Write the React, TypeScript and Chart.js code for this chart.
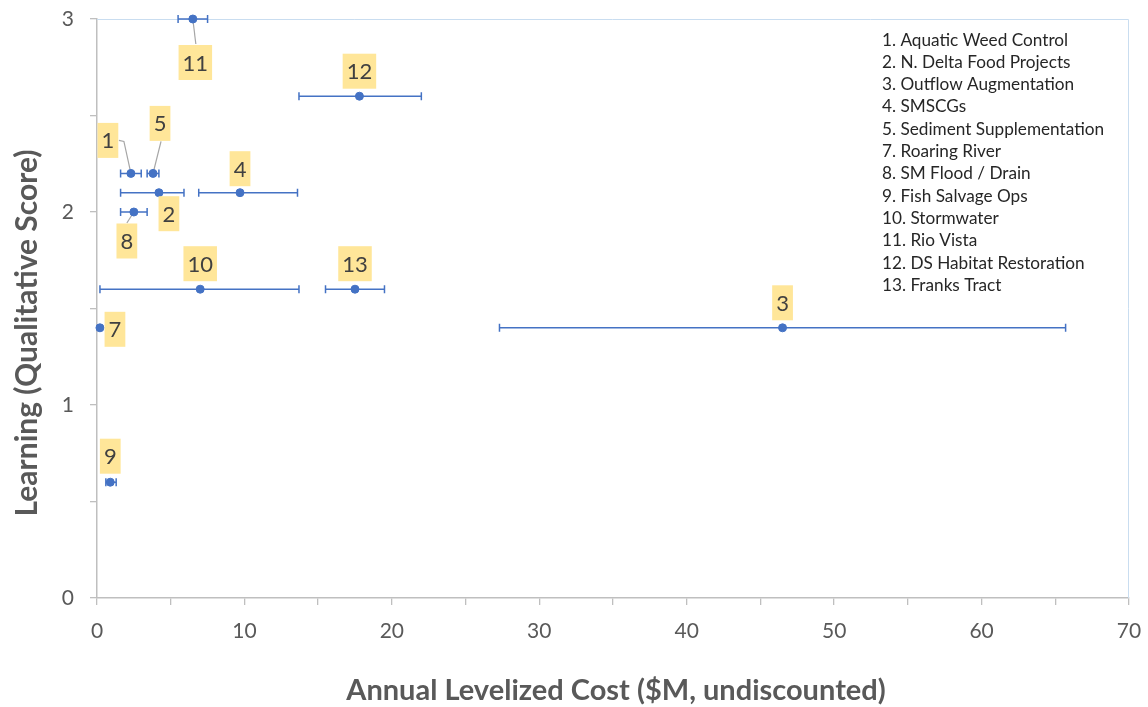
import React, { useEffect, useRef } from "react";
import { Chart, registerables } from "chart.js";

Chart.register(...registerables);

// ---- Data ----
const pointLabels = ["1", "2", "3", "4", "5", "7", "8", "9", "10", "11", "12", "13"];
const annualCost = [2.3, 4.2, 46.5, 9.7, 3.8, 0.2, 2.5, 0.9, 7.0, 6.5, 17.8, 17.5];
const learningScore = [2.2, 2.1, 1.4, 2.1, 2.2, 1.4, 2.0, 0.6, 1.6, 3.0, 2.6, 1.6];
const costLow = [1.6, 1.6, 27.3, 6.9, 3.4, null, 1.6, 0.6, 0.2, 5.5, 13.7, 15.5];
const costHigh = [3.0, 5.9, 65.7, 13.6, 4.2, null, 3.4, 1.3, 13.7, 7.5, 22.0, 19.5];
const legendEntries = [
  "1. Aquatic Weed Control",
  "2. N. Delta Food Projects",
  "3. Outflow Augmentation",
  "4. SMSCGs",
  "5. Sediment Supplementation",
  "7. Roaring River",
  "8. SM Flood / Drain",
  "9. Fish Salvage Ops",
  "10. Stormwater",
  "11. Rio Vista",
  "12. DS Habitat Restoration",
  "13. Franks Tract",
];
const xTickStep = 5;
const yTickStep = 0.5;

// ---- Label placement (pixel offsets from point; leader line bends) ----
const labelLayout: Record<string, { dx: number; dy: number; leader?: number[][] }> = {
  "1": { dx: -23, dy: -33, leader: [[-7, -32], [-12, -33]] },
  "2": { dx: 10, dy: 21 },
  "3": { dx: 0, dy: -25 },
  "4": { dx: 0, dy: -24 },
  "5": { dx: 7, dy: -50, leader: [[8, -32]] },
  "7": { dx: 15, dy: 1.5 },
  "8": { dx: -7, dy: 29, leader: [[-7, 11]] },
  "9": { dx: 0, dy: -26 },
  "10": { dx: 0, dy: -25.5 },
  "11": { dx: 2.5, dy: 43.5, leader: [[3, 25]] },
  "12": { dx: 0, dy: -25 },
  "13": { dx: 0, dy: -25.5 },
};

const BLUE = "#4472C4";
const AXIS_GRAY = "#BFBFBF";
const TEXT_GRAY = "#595959";
const FONT = "Lato, 'Open Sans', sans-serif";

const zeroPad = (s: any) => {
  s.paddingTop = 0;
  s.paddingBottom = 0;
  s.paddingLeft = 0;
  s.paddingRight = 0;
};

const overlayPlugin = {
  id: "overlay",
  beforeDatasetsDraw(chart: any) {
    const ctx = chart.ctx;
    const xs = chart.scales.x;
    const ys = chart.scales.y;
    const area = chart.chartArea;
    ctx.save();
    // plot border (top/right light blue)
    ctx.strokeStyle = "#C9DDF0";
    ctx.lineWidth = 1;
    ctx.beginPath();
    ctx.moveTo(area.left, area.top + 0.5);
    ctx.lineTo(area.right - 0.5, area.top + 0.5);
    ctx.lineTo(area.right - 0.5, area.bottom);
    ctx.stroke();
    // error bars
    ctx.strokeStyle = BLUE;
    ctx.lineWidth = 1.5;
    for (let i = 0; i < annualCost.length; i++) {
      const lo = costLow[i];
      const hi = costHigh[i];
      if (lo == null || hi == null) continue;
      const y = ys.getPixelForValue(learningScore[i]);
      const x1 = xs.getPixelForValue(lo);
      const x2 = xs.getPixelForValue(hi);
      ctx.beginPath();
      ctx.moveTo(x1, y);
      ctx.lineTo(x2, y);
      ctx.moveTo(x1, y - 4);
      ctx.lineTo(x1, y + 4);
      ctx.moveTo(x2, y - 4);
      ctx.lineTo(x2, y + 4);
      ctx.stroke();
    }
    // leader lines
    ctx.strokeStyle = "#A6A6A6";
    ctx.lineWidth = 1.2;
    for (let i = 0; i < pointLabels.length; i++) {
      const lay = labelLayout[pointLabels[i]];
      if (!lay || !lay.leader) continue;
      const px = xs.getPixelForValue(annualCost[i]);
      const py = ys.getPixelForValue(learningScore[i]);
      ctx.beginPath();
      ctx.moveTo(px, py);
      for (const [dx, dy] of lay.leader) ctx.lineTo(px + dx, py + dy);
      ctx.stroke();
    }
    ctx.restore();
  },
  afterDatasetsDraw(chart: any) {
    const ctx = chart.ctx;
    const xs = chart.scales.x;
    const ys = chart.scales.y;
    const area = chart.chartArea;
    ctx.save();
    // data labels
    ctx.font = `22px ${FONT}`;
    ctx.textAlign = "center";
    ctx.textBaseline = "middle";
    for (let i = 0; i < pointLabels.length; i++) {
      const lay = labelLayout[pointLabels[i]] || { dx: 0, dy: -25 };
      const px = xs.getPixelForValue(annualCost[i]);
      const py = ys.getPixelForValue(learningScore[i]);
      const cx = px + lay.dx;
      const cy = py + lay.dy;
      const w = ctx.measureText(pointLabels[i]).width + 8;
      const h = 35;
      ctx.fillStyle = "#FFE699";
      ctx.fillRect(cx - w / 2, cy - h / 2, w, h);
      ctx.fillStyle = "#404040";
      ctx.fillText(pointLabels[i], cx, cy + 1);
    }
    // legend text box
    ctx.font = `17.2px ${FONT}`;
    ctx.textAlign = "left";
    ctx.fillStyle = "#262626";
    const lx = area.right - 247;
    const ly = area.top + 21;
    legendEntries.forEach((t, k) => ctx.fillText(t, lx, ly + k * 22.3));
    // axis titles
    ctx.fillStyle = TEXT_GRAY;
    ctx.font = `bold 29px ${FONT}`;
    ctx.textAlign = "center";
    ctx.fillText("Annual Levelized Cost ($M, undiscounted)", 616, 691);
    ctx.font = `bold 30px ${FONT}`;
    ctx.translate(27, 333);
    ctx.rotate(-Math.PI / 2);
    ctx.fillText("Learning (Qualitative Score)", 0, 0);
    ctx.restore();
  },
};

export default function App() {
  const canvasRef = useRef<HTMLCanvasElement | null>(null);
  useEffect(() => {
    document.body.style.margin = "0";
    const canvas = canvasRef.current;
    if (!canvas) return;
    const chart = new Chart(canvas, {
      type: "scatter",
      data: {
        datasets: [
          {
            label: "Projects",
            data: annualCost.map((x, i) => ({ x, y: learningScore[i] })),
            backgroundColor: BLUE,
            borderColor: BLUE,
            pointRadius: 4,
            pointHoverRadius: 4,
            clip: false as any,
          },
        ],
      },
      options: {
        animation: false,
        responsive: false,
        maintainAspectRatio: false,
        layout: { padding: { top: 19, right: 19, left: 0, bottom: 0 } },
        plugins: { legend: { display: false }, tooltip: { enabled: false } },
        scales: {
          x: {
            type: "linear",
            min: 0,
            max: 70,
            afterFit: (s: any) => {
              s.height = 109;
              zeroPad(s);
            },
            ticks: {
              stepSize: xTickStep,
              autoSkip: false,
              maxRotation: 0,
              padding: 14,
              color: TEXT_GRAY,
              font: { family: FONT, size: 21 },
              callback: (v: any) => (Number(v) % 10 === 0 ? String(v) : ""),
            },
            grid: {
              drawOnChartArea: false,
              drawTicks: true,
              tickLength: 7,
              color: AXIS_GRAY,
              lineWidth: 1.3,
            },
            border: { color: AXIS_GRAY, width: 1.5 },
          },
          y: {
            type: "linear",
            min: 0,
            max: 3,
            afterFit: (s: any) => {
              s.width = 97;
              zeroPad(s);
            },
            ticks: {
              stepSize: yTickStep,
              autoSkip: false,
              padding: 16,
              color: TEXT_GRAY,
              font: { family: FONT, size: 21 },
              callback: (v: any) => (Number(v) % 1 === 0 ? String(v) : ""),
            },
            grid: {
              drawOnChartArea: false,
              drawTicks: true,
              tickLength: 7,
              color: AXIS_GRAY,
              lineWidth: 1.3,
            },
            border: { color: AXIS_GRAY, width: 1.5 },
          },
        },
      },
      plugins: [overlayPlugin],
    });
    return () => chart.destroy();
  }, []);
  return (
    <div style={{ width: 1148, height: 707, background: "#fff" }}>
      <canvas ref={canvasRef} width={1148} height={707} style={{ width: 1148, height: 707 }} />
    </div>
  );
}
